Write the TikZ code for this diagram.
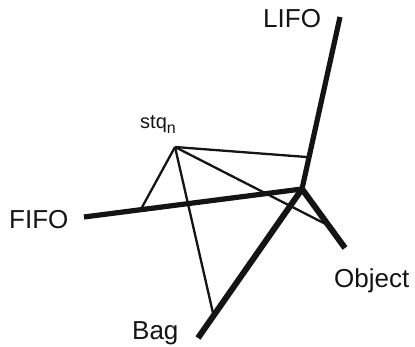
\documentclass[tikz,border=0pt]{standalone}
\usepackage{fontspec}
\setmainfont{Liberation Sans}
\usetikzlibrary{calc}
\colorlet{ink}{black!92}
\tikzset{
  axis/.style={draw=ink, line width=5.2pt},
  link/.style={draw=ink, line width=2.3pt, line join=round},
  axis label/.style={anchor=base west, inner sep=0pt, text=ink, font=\fontsize{26}{26}\selectfont},
  point label/.style={anchor=base west, inner sep=0pt, text=ink, font=\fontsize{20}{20}\selectfont}
}
\begin{document}
\begin{tikzpicture}[x=1pt,y=-1pt]
  \useasboundingbox (0,0) rectangle (415,347);

  % axes meeting at the origin
  \coordinate (origin) at (302,189);
  \coordinate (lifoEnd) at (340,17);
  \coordinate (fifoEnd) at (84,217);
  \coordinate (bagEnd) at (198,338);
  \coordinate (objectEnd) at (345,248);
  \coordinate (stqPt) at (175,147);

  \draw[axis] (origin) -- (lifoEnd);
  \draw[axis] (origin) -- (fifoEnd);
  \draw[axis, line width=6pt] (origin) -- (bagEnd);
  \draw[axis, line width=6pt] (origin) -- (objectEnd);

  % projections of stq_n onto the axes
  \coordinate (onLifo) at ($(origin)!0.185!(lifoEnd)$);
  \coordinate (onFifo) at ($(origin)!0.74!(fifoEnd)$);
  \coordinate (onBag) at ($(origin)!0.85!(bagEnd)$);
  \coordinate (onObject) at ($(origin)!0.62!(objectEnd)$);

  \draw[link] (stqPt) -- (onLifo);
  \draw[link] (stqPt) -- (onFifo);
  \draw[link] (stqPt) -- (onBag);
  \draw[link] (stqPt) -- (onObject);

  \node[axis label] (lifo) at (263,28) {LIFO};
  \node[axis label] (fifo) at (9,229) {FIFO};
  \node[axis label] (object) at (334,288) {Object};
  \node[axis label] (bag) at (132,339) {Bag};
  \node[point label] (stq) at (140,129) {stq\raisebox{-5pt}{\fontsize{16}{16}\selectfont n}};
\end{tikzpicture}
\end{document}
